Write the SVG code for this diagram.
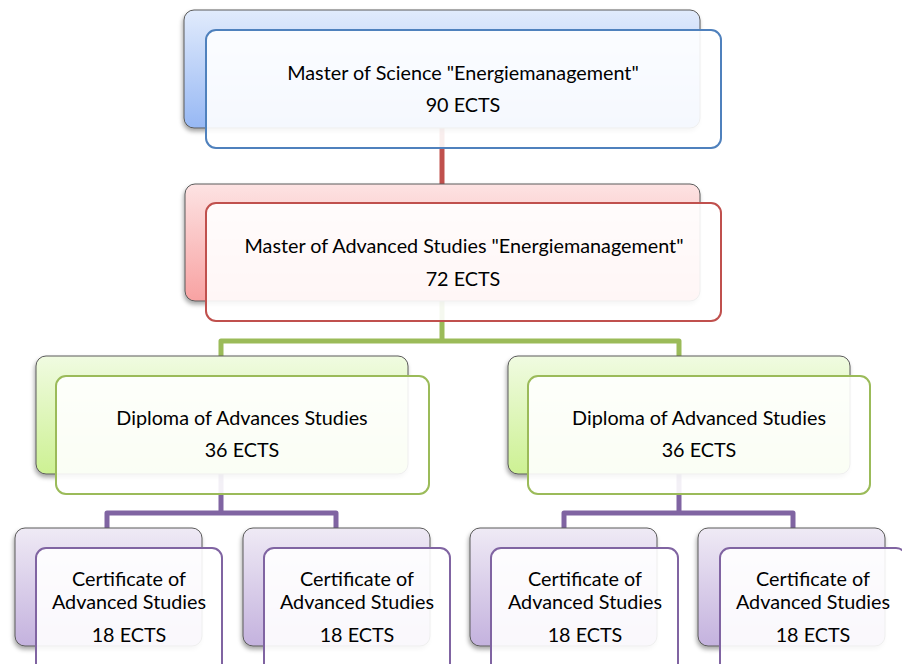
<svg xmlns="http://www.w3.org/2000/svg" width="902" height="664" viewBox="0 0 902 664">
<defs>
<linearGradient id="gB" x1="0" y1="0" x2="0" y2="1"><stop offset="0" stop-color="#e1ebfc"/><stop offset="1" stop-color="#97b8f4"/></linearGradient>
<linearGradient id="gR" x1="0" y1="0" x2="0" y2="1"><stop offset="0" stop-color="#fde3e3"/><stop offset="1" stop-color="#f8a2a2"/></linearGradient>
<linearGradient id="gG" x1="0" y1="0" x2="0" y2="1"><stop offset="0" stop-color="#f0fbe1"/><stop offset="1" stop-color="#cdf193"/></linearGradient>
<linearGradient id="gP" x1="0" y1="0" x2="0" y2="1"><stop offset="0" stop-color="#efeaf5"/><stop offset="1" stop-color="#c4b2de"/></linearGradient>
<filter id="sh" x="-10%" y="-10%" width="120%" height="130%"><feDropShadow dx="-1" dy="3" stdDeviation="2" flood-color="#000" flood-opacity="0.35"/></filter>
</defs>
<style>
.back{stroke:#5a5a5a;stroke-width:1;filter:url(#sh)}
.front{fill:#ffffff;fill-opacity:0.9;stroke-width:2}
.t{font-family:Lato,"Open Sans","Liberation Sans",sans-serif;font-size:19.8px;fill:#000;text-anchor:middle}
.c{fill:none;stroke-width:5;stroke-linejoin:round}
</style>
<rect width="902" height="664" fill="#fff"/>
<g id="connectors">
<path class="c" stroke="#c0504d" d="M442 128 V186"/>
<path class="c" stroke="#9bbb59" d="M442 301 V341 M221 358 V341 H679 V358"/>
<path class="c" stroke="#8064a2" d="M221 474 V513 M107 530 V513 H336 V530"/>
<path class="c" stroke="#8064a2" d="M679 474 V513 M564 530 V513 H793 V530"/>
</g>
<g id="n-msc">
<rect class="back" x="184" y="10" width="516" height="118" rx="10" fill="url(#gB)"/>
<rect class="front" x="206" y="30" width="515" height="118" rx="10" stroke="#4f81bd"/>
<text class="t" x="463" y="80">Master of Science "Energiemanagement"</text>
<text class="t" x="463" y="112">90 ECTS</text>
</g>
<g id="n-mas">
<rect class="back" x="185" y="184" width="515" height="117" rx="10" fill="url(#gR)"/>
<rect class="front" x="206" y="203" width="515" height="118" rx="10" stroke="#c0504d"/>
<text class="t" x="464" y="253">Master of Advanced Studies "Energiemanagement"</text>
<text class="t" x="463" y="286">72 ECTS</text>
</g>
<g id="n-das1">
<rect class="back" x="36" y="356" width="372" height="118" rx="10" fill="url(#gG)"/>
<rect class="front" x="56" y="376" width="373" height="118" rx="10" stroke="#9bbb59"/>
<text class="t" x="242" y="425">Diploma of Advances Studies</text>
<text class="t" x="242" y="457">36 ECTS</text>
</g>
<g id="n-das2">
<rect class="back" x="508" y="356" width="342" height="118" rx="10" fill="url(#gG)"/>
<rect class="front" x="528" y="376" width="342" height="118" rx="10" stroke="#9bbb59"/>
<text class="t" x="699" y="425">Diploma of Advanced Studies</text>
<text class="t" x="699" y="457">36 ECTS</text>
</g>
<g id="n-cas1">
<rect class="back" x="15" y="528" width="187" height="118" rx="10" fill="url(#gP)"/>
<rect class="front" x="36" y="548" width="186" height="130" rx="10" stroke="#8064a2"/>
<text class="t" x="129" y="586">Certificate of</text>
<text class="t" x="129" y="609">Advanced Studies</text>
<text class="t" x="129" y="642">18 ECTS</text>
</g>
<g id="n-cas2">
<rect class="back" x="243" y="528" width="187" height="118" rx="10" fill="url(#gP)"/>
<rect class="front" x="264" y="548" width="186" height="130" rx="10" stroke="#8064a2"/>
<text class="t" x="357" y="586">Certificate of</text>
<text class="t" x="357" y="609">Advanced Studies</text>
<text class="t" x="357" y="642">18 ECTS</text>
</g>
<g id="n-cas3">
<rect class="back" x="470" y="528" width="187" height="118" rx="10" fill="url(#gP)"/>
<rect class="front" x="491" y="548" width="187" height="130" rx="10" stroke="#8064a2"/>
<text class="t" x="585" y="586">Certificate of</text>
<text class="t" x="585" y="609">Advanced Studies</text>
<text class="t" x="585" y="642">18 ECTS</text>
</g>
<g id="n-cas4">
<rect class="back" x="698" y="528" width="187" height="118" rx="10" fill="url(#gP)"/>
<rect class="front" x="720" y="548" width="186" height="130" rx="10" stroke="#8064a2"/>
<text class="t" x="813" y="586">Certificate of</text>
<text class="t" x="813" y="609">Advanced Studies</text>
<text class="t" x="813" y="642">18 ECTS</text>
</g>
</svg>
